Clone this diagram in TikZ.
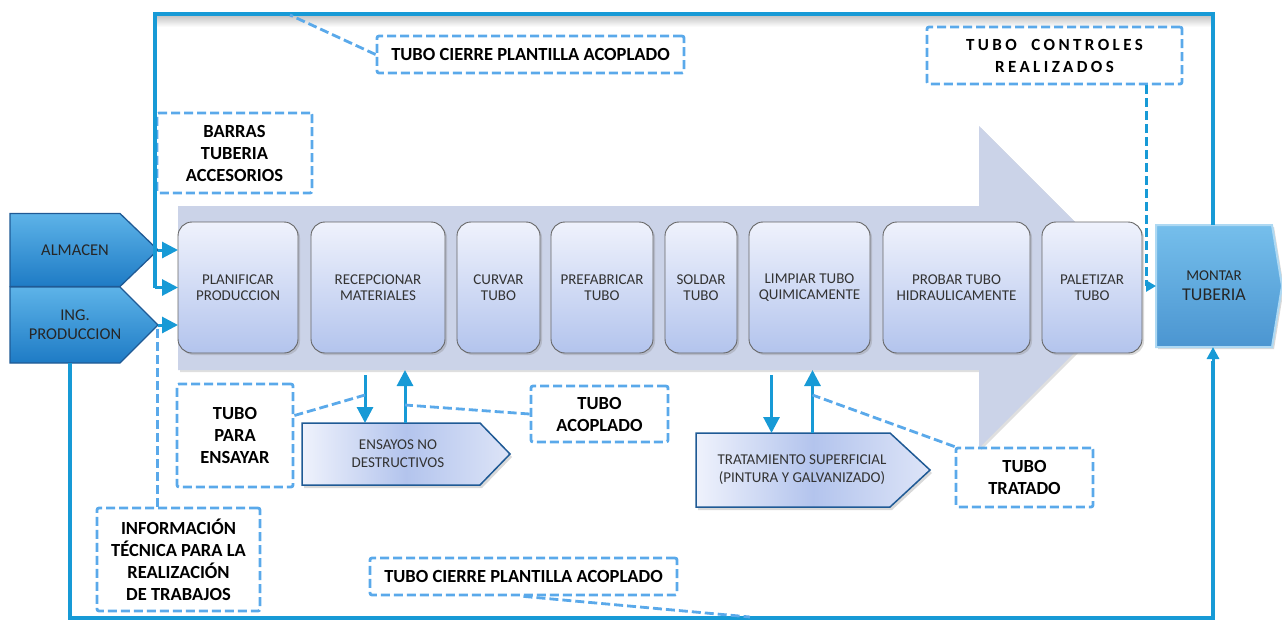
\documentclass[tikz,border=0pt]{standalone}
\usepackage{fontspec}
\setmainfont{Carlito}
\usepackage{tikz}
\usetikzlibrary{arrows.meta, positioning, shadows}
\pgfdeclarelayer{background}
\pgfsetlayers{background,main}
\definecolor{frameblue}{HTML}{179AD6}
\definecolor{dashblue}{HTML}{5AA9EA}
\definecolor{flowgrey}{HTML}{CBD3E8}
\definecolor{boxtop}{HTML}{EFF2FC}
\definecolor{boxbot}{HTML}{B3C4ED}
\definecolor{srclight}{HTML}{5DB3E8}
\definecolor{srcdark}{HTML}{1E7BC5}
\definecolor{edgeblue}{HTML}{1F5A95}
\tikzstyle{process} = [rectangle, rounded corners=14pt, minimum height=131pt, inner sep=2pt, outer sep=0pt, align=center, draw=black!60, line width=0.9pt, top color=boxtop, bottom color=boxbot, text=black!80, font=\fontsize{15}{16.5}\selectfont, drop shadow={opacity=0.3, shadow xshift=2pt, shadow yshift=-2pt}]
\tikzstyle{srctext} = [rectangle, inner sep=0pt, outer sep=0pt, align=center, text=black!85, font=\fontsize{16.5}{19}\selectfont]
\tikzstyle{srcshape} = [draw=edgeblue, line width=1.3pt, top color=srclight, bottom color=srcdark]
\tikzstyle{subtext} = [rectangle, inner sep=0pt, outer sep=0pt, align=center, text=black!80, font=\fontsize{15}{18}\selectfont]
\tikzstyle{subshape} = [draw=edgeblue, line width=1.5pt, left color=boxtop, right color=boxtop!70!boxbot, middle color=boxbot, drop shadow={opacity=0.3, shadow xshift=2pt, shadow yshift=-3pt}]
\tikzstyle{note} = [rectangle, rounded corners=2pt, draw=dashblue, line width=2.8pt, dash pattern=on 9pt off 4pt, inner sep=0pt, align=center, font=\fontsize{18.5}{22}\selectfont\bfseries]
\tikzstyle{arrow} = [line width=3pt, draw=frameblue, -{Triangle[length=16pt, width=16pt]}]
\tikzstyle{frame} = [line width=3.5pt, draw=frameblue]
\tikzstyle{callout} = [line width=2.8pt, draw=dashblue, dash pattern=on 9pt off 4pt]

\begin{document}
\begin{tikzpicture}[x=1pt, y=-1pt, node distance=12pt]
  \useasboundingbox (0,0) rectangle (1282,622);
  % process steps
  \node (planif) [process, minimum width=120pt] at (238,287.5) {PLANIFICAR\\PRODUCCION};
  \node (recep) [process, minimum width=134pt, right=13pt of planif] {RECEPCIONAR\\MATERIALES};
  \node (curvar) [process, minimum width=83pt, right=of recep] {CURVAR\\TUBO};
  \node (prefab) [process, minimum width=102pt, right=11pt of curvar] {PREFABRICAR\\TUBO};
  \node (soldar) [process, minimum width=72pt, right=of prefab] {SOLDAR\\TUBO};
  \node (limpiar) [process, minimum width=121pt, right=of soldar] {LIMPIAR TUBO\\QUIMICAMENTE};
  \node (probar) [process, minimum width=147pt, right=13pt of limpiar] {PROBAR TUBO\\HIDRAULICAMENTE};
  \node (paletizar) [process, minimum width=100pt, right=of probar] {PALETIZAR\\TUBO};
  % inputs, output and sub processes (text, shapes go behind)
  \node (almacen) [srctext, minimum width=130pt, minimum height=73pt] at (75,250) {ALMACEN};
  \node (ing) [srctext, minimum width=130pt, minimum height=76pt] at (75,325) {ING.\\PRODUCCION};
  \node (montar) [srctext, minimum width=116pt, minimum height=122pt, font=\fontsize{15}{20}\selectfont] at (1214,286) {MONTAR\\{\fontsize{18}{20}\selectfont TUBERIA}};
  \node (ensayos) [subtext, minimum width=192pt, minimum height=62pt] at (398,454) {ENSAYOS NO\\DESTRUCTIVOS};
  \node (tratam) [subtext, minimum width=212pt, minimum height=74pt] at (802,470) {TRATAMIENTO SUPERFICIAL\\(PINTURA Y GALVANIZADO)};
  \coordinate (almacentip) at ([xshift=18pt]almacen.east);
  \coordinate (ingtip) at ([xshift=18pt]ing.east);
  \begin{pgfonlayer}{background}
    % big flow arrow
    \fill[flowgrey, drop shadow={opacity=0.25, shadow xshift=2pt, shadow yshift=-2pt}] (178,206) -- (979,206) -- (979,126) -- (1140,287) -- (979,448) -- (979,370) -- (178,370) -- cycle;
    \shade[top color=black!22, bottom color=white] (155,16) rectangle (1213,27);
    \path[srcshape] (almacen.north west) -- ([xshift=-20pt]almacen.north east) -- (almacentip) -- ([xshift=-20pt]almacen.south east) -- (almacen.south west) -- cycle;
    \path[srcshape] (ing.north west) -- ([xshift=-20pt]ing.north east) -- (ingtip) -- ([xshift=-20pt]ing.south east) -- (ing.south west) -- cycle;
    \path[srcshape, draw=srclight!50, line width=2pt, top color=srclight!85!white, bottom color=srcdark!80!white, drop shadow={opacity=0.3, shadow xshift=2pt, shadow yshift=-2pt}] (montar.north west) -- (montar.north east) -- ([xshift=10pt]montar.east) -- (montar.south east) -- (montar.south west) -- cycle;
    \path[subshape] (ensayos.north west) -- ([xshift=-14pt]ensayos.north east) -- ([xshift=16pt]ensayos.east) -- ([xshift=-14pt]ensayos.south east) -- (ensayos.south west) -- cycle;
    \path[subshape] (tratam.north west) -- ([xshift=-18pt]tratam.north east) -- ([xshift=22pt]tratam.east) -- ([xshift=-18pt]tratam.south east) -- (tratam.south west) -- cycle;
  \end{pgfonlayer}
  % notes
  \node (cierretop) [note, minimum width=307pt, minimum height=37pt] at (530.5,54.5) {TUBO CIERRE PLANTILLA ACOPLADO};
  \node (controles) [note, minimum width=255pt, minimum height=57pt, font=\fontsize{17}{22}\selectfont\bfseries\addfontfeature{LetterSpace=20}] at (1054.5,55.5) {TUBO\ \ CONTROLES\\REALIZADOS};
  \node (barras) [note, minimum width=155pt, minimum height=80pt] at (234.5,153) {BARRAS\\TUBERIA\\ACCESORIOS};
  \node (paraens) [note, minimum width=116pt, minimum height=103pt] at (235,435.5) {TUBO\\PARA\\ENSAYAR};
  \node (acoplado) [note, minimum width=137pt, minimum height=56pt] at (599.5,414) {TUBO\\ACOPLADO};
  \node (tratado) [note, minimum width=137pt, minimum height=59pt] at (1024.5,477.5) {TUBO\\TRATADO};
  \node (info) [note, minimum width=163pt, minimum height=103pt] at (178.5,559.5) {INFORMACIÓN\\TÉCNICA PARA LA\\REALIZACIÓN\\DE TRABAJOS};
  \node (cierrebot) [note, minimum width=307pt, minimum height=37pt] at (523.5,576.5) {TUBO CIERRE PLANTILLA ACOPLADO};
  % frame corners
  \coordinate (fTL) at (155,14);
  \coordinate (fTR) at (1213,14);
  \coordinate (fBL) at (70,618);
  \coordinate (fBR) at (1213,618);
  \coordinate (topmark) at (290,15);
  \coordinate (botmark) at (750,617);
  % frame loops
  \draw[frame] (montar.north -| fTR) -- (fTR) -- (fTL) -- (fTL |- planif.west);
  \draw[arrow] (fTL |- planif.west) -- (planif.west);
  \draw[frame] (ing.south -| fBL) -- (fBL) -- (fBR) -- ([yshift=-14pt]fBR |- montar.south);
  \draw[arrow, -{Triangle[length=12pt, width=12pt]}] ([yshift=-14pt]fBR |- montar.south) -- (fBR |- montar.south);
  \draw[arrow] (almacentip) -- (almacentip -| planif.west);
  \draw[arrow] (ingtip) -- (ingtip -| planif.west);
  % sub processes
  \draw[arrow] ([xshift=-13pt,yshift=-22pt]recep.south) -- ([xshift=-13pt]recep.south |- ensayos.north);
  \draw[arrow] ([xshift=27pt]recep.south |- ensayos.north) -- ([xshift=27pt,yshift=-17pt]recep.south);
  \draw[arrow] ([xshift=-38pt,yshift=-22pt]limpiar.south) -- ([xshift=-38pt]limpiar.south |- tratam.north);
  \draw[arrow] ([xshift=3pt]limpiar.south |- tratam.north) -- ([xshift=3pt,yshift=-17pt]limpiar.south);
  % callouts
  \draw[callout] (cierretop.west) -- (topmark);
  \draw[callout] (cierrebot.south) -- (botmark);
  \draw[callout] ([yshift=20pt]paraens.east) -- ([xshift=-13pt,yshift=-42pt]recep.south);
  \draw[callout] (acoplado.west) -- ([xshift=27pt,yshift=-52pt]recep.south);
  \draw[callout] (tratado.north west) -- ([xshift=3pt,yshift=-42pt]limpiar.south);
  \draw[callout] ([xshift=-21pt]info.north) -- ([xshift=-21pt]info.north |- ingtip);
  \draw[callout, draw=frameblue, line width=3pt] ([xshift=92pt]controles.south) -- ([xshift=92pt]controles.south |- montar.west);
  \draw[arrow, -{Triangle[length=10pt, width=11pt]}] ([xshift=92pt]controles.south |- montar.west) -- (montar.west);
\end{tikzpicture}
\end{document}
